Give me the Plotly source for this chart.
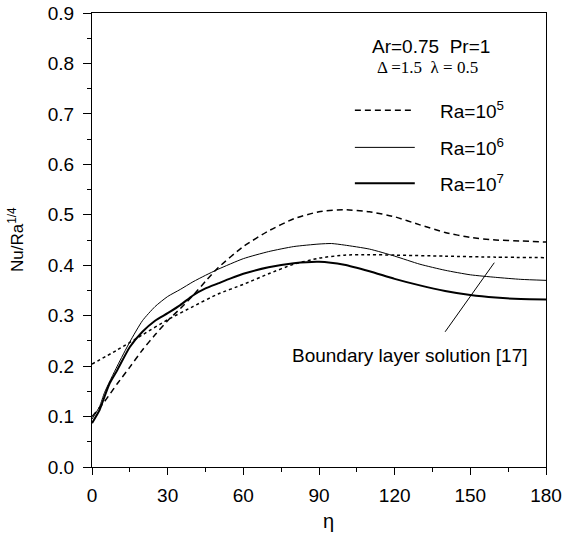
import plotly.graph_objects as go

# ---- data ----
eta_ra5 = [0, 5, 10, 15, 20, 25, 30, 35, 40, 45, 50, 60, 70, 80, 90, 100, 110, 120, 130, 140, 150, 160, 170, 180]
nu_ra5 = [0.100, 0.130, 0.165, 0.198, 0.232, 0.262, 0.290, 0.314, 0.340, 0.368, 0.395, 0.437, 0.468, 0.492,
          0.506, 0.510, 0.506, 0.496, 0.480, 0.465, 0.455, 0.450, 0.448, 0.446]

eta_ra6 = [0, 3, 5, 10, 15, 20, 25, 30, 35, 40, 45, 50, 60, 70, 80, 90, 95, 100, 110, 120, 130, 140, 150, 160, 170, 180]
nu_ra6 = [0.095, 0.120, 0.148, 0.200, 0.248, 0.290, 0.318, 0.338, 0.352, 0.367, 0.380, 0.392, 0.413, 0.427,
          0.437, 0.442, 0.443, 0.440, 0.432, 0.418, 0.402, 0.390, 0.381, 0.376, 0.372, 0.370]

eta_ra7 = [0, 3, 5, 7, 10, 15, 20, 25, 30, 35, 40, 45, 50, 55, 60, 70, 80, 90, 100, 110, 120, 130, 140, 150, 160, 170, 180]
nu_ra7 = [0.087, 0.113, 0.140, 0.166, 0.192, 0.238, 0.268, 0.290, 0.305, 0.321, 0.340, 0.354, 0.364, 0.374,
          0.383, 0.396, 0.404, 0.407, 0.401, 0.388, 0.373, 0.360, 0.349, 0.341, 0.336, 0.333, 0.332]

eta_bl = [0, 10, 20, 30, 40, 50, 60, 70, 80, 90, 100, 110, 120, 140, 160, 180]
nu_bl = [0.204, 0.232, 0.262, 0.292, 0.318, 0.343, 0.362, 0.383, 0.402, 0.414, 0.420, 0.421, 0.420, 0.418,
         0.416, 0.415]

series_names = ["Ra=10<sup>5</sup>", "Ra=10<sup>6</sup>", "Ra=10<sup>7</sup>"]
x_ticks = [0, 30, 60, 90, 120, 150, 180]
y_ticks = [0.0, 0.1, 0.2, 0.3, 0.4, 0.5, 0.6, 0.7, 0.8, 0.9]
bl_label = "Boundary layer solution [17]"
bl_label_pos = (78.5, 0.222)
bl_pointer_eta = [140, 159.5]
bl_pointer_nu = [0.268, 0.405]

FONT = "Liberation Sans, Arial, sans-serif"
SERIF = "Liberation Serif, Times New Roman, serif"
styles = [dict(color="black", width=1.5, dash="6px,4px"),
          dict(color="black", width=1.0),
          dict(color="black", width=2.0)]

fig = go.Figure()
for (xs, ys), name, st in zip([(eta_ra5, nu_ra5), (eta_ra6, nu_ra6), (eta_ra7, nu_ra7)], series_names, styles):
    fig.add_trace(go.Scatter(x=xs, y=ys, mode="lines", name=name,
                             line=dict(shape="spline", smoothing=0.6, **st), showlegend=False))
fig.add_trace(go.Scatter(x=eta_bl, y=nu_bl, mode="lines", name="Boundary layer",
                         line=dict(color="black", width=1.5, dash="3px,3px", shape="spline", smoothing=0.6),
                         showlegend=False))

# pointer line for boundary-layer label
fig.add_shape(type="line", xref="x", yref="y", x0=bl_pointer_eta[0], y0=bl_pointer_nu[0],
              x1=bl_pointer_eta[1], y1=bl_pointer_nu[1], line=dict(color="black", width=1))
fig.add_annotation(x=bl_label_pos[0], y=bl_label_pos[1], xref="x", yref="y", text=bl_label, showarrow=False,
                   xanchor="left", yanchor="middle", font=dict(family=FONT, size=19, color="black"))

# manual legend
leg_y = [0.786, 0.704, 0.625]
for st, name, yy in zip(styles, series_names, leg_y):
    fig.add_shape(type="line", xref="paper", yref="paper", x0=0.579, x1=0.711, y0=yy, y1=yy, line=st)
    fig.add_annotation(x=0.762, y=yy, xref="paper", yref="paper", text=name, showarrow=False,
                       xanchor="left", yanchor="middle", font=dict(family=FONT, size=19, color="black"))
fig.add_annotation(x=0.7467, y=0.9267, xref="paper", yref="paper", text="Ar=0.75&nbsp;&nbsp;Pr=1",
                   showarrow=False, xanchor="center", yanchor="middle",
                   font=dict(family=FONT, size=19, color="black"))
fig.add_annotation(x=0.740, y=0.8794, xref="paper", yref="paper", text="Δ =1.5&nbsp;&nbsp;λ = 0.5",
                   showarrow=False, xanchor="center", yanchor="middle",
                   font=dict(family=SERIF, size=17, color="black"))

# axis titles
fig.add_annotation(x=-0.1674, y=0.5, xref="paper", yref="paper", text="Nu/Ra<sup>1/4</sup>", showarrow=False,
                   textangle=-90, xanchor="center", yanchor="middle",
                   font=dict(family=FONT, size=17, color="black"))
fig.add_annotation(x=0.522, y=-0.1189, xref="paper", yref="paper", text="η", showarrow=False,
                   xanchor="center", yanchor="middle", font=dict(family=FONT, size=20, color="black"))

axis_common = dict(showline=True, linecolor="black", linewidth=1.2, mirror=True, ticks="outside",
                   tickwidth=1, tickcolor="black", showgrid=False, zeroline=False,
                   ticklabeloverflow="allow",
                   tickfont=dict(family=FONT, size=19, color="black"))
fig.update_xaxes(range=[0, 180], tickvals=x_ticks, ticktext=[str(v) for v in x_ticks], ticklen=7,
                 ticklabelstandoff=4,
                 minor=dict(dtick=15, tick0=0, ticks="outside", ticklen=4, tickcolor="black"),
                 **axis_common)
fig.update_yaxes(range=[0, 0.9], tickvals=y_ticks, ticktext=[f"{v:.1f}" for v in y_ticks], ticklen=8,
                 ticklabelstandoff=5,
                 minor=dict(dtick=0.05, tick0=0, ticks="outside", ticklen=4, tickcolor="black"),
                 **axis_common)
fig.update_layout(width=564, height=536, margin=dict(l=92, r=18, t=13, b=69, autoexpand=False),
                  plot_bgcolor="white", paper_bgcolor="white", font=dict(family=FONT, color="black"))
# remove the default page margin so the figure fills the window exactly; hide the mode bar
fig.write_html("out.html", config={"displayModeBar": False},
               post_script="document.body.style.margin='0';document.body.style.overflow='hidden';")
